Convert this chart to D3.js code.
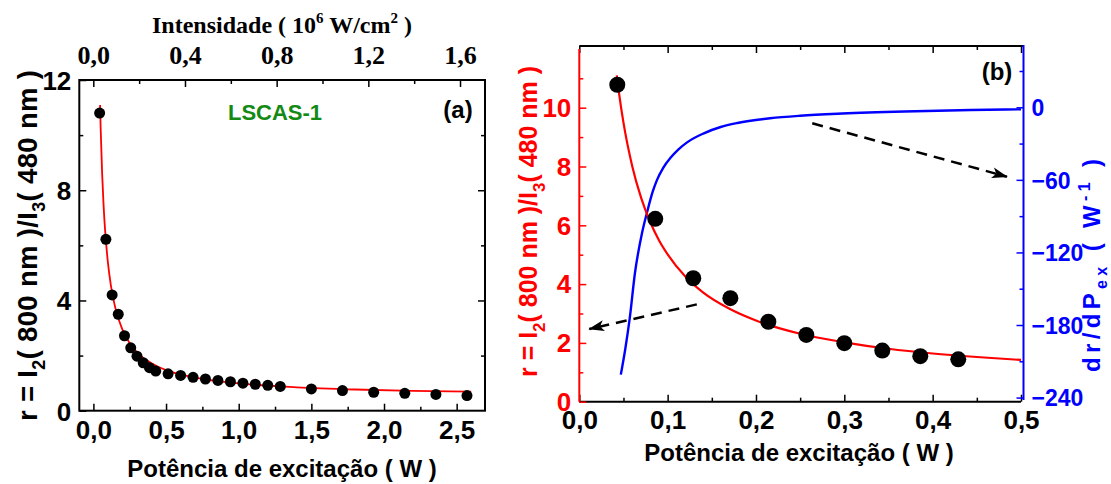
<!DOCTYPE html>
<html>
<head>
<meta charset="utf-8">
<script src="https://cdn.jsdelivr.net/npm/d3@7"></script>
<style>
  html, body { margin: 0; padding: 0; background: #fff; }
  svg { display: block; }
</style>
</head>
<body>
<svg id="chart" width="1111" height="484" font-family='"Liberation Sans", Arial, sans-serif' font-weight="bold"></svg>
<script>
// ---------- Panel (a): ratio vs excitation power ----------
const powerA = [0.043, 0.086, 0.129, 0.171, 0.214, 0.257, 0.300, 0.343, 0.386, 0.429,
                0.514, 0.600, 0.686, 0.771, 0.857, 0.943, 1.029, 1.114, 1.200, 1.286,
                1.500, 1.714, 1.929, 2.143, 2.357, 2.571];
const ratioA = [10.8, 6.22, 4.2, 3.5, 2.72, 2.28, 1.98, 1.74, 1.56, 1.44,
                1.34, 1.28, 1.21, 1.15, 1.10, 1.05, 1.00, 0.96, 0.92, 0.88,
                0.79, 0.73, 0.67, 0.63, 0.59, 0.55];
// fitted curve, sampled
const fitPowerA = [0.046, 0.05, 0.06, 0.07, 0.08, 0.10, 0.12, 0.15, 0.20, 0.25, 0.30,
                   0.40, 0.50, 0.70, 1.00, 1.40, 1.80, 2.20, 2.60];
const fitRatioA = [11.09, 10.24, 8.62, 7.46, 6.59, 5.37, 4.56, 3.75, 2.94, 2.45, 2.12,
                   1.72, 1.47, 1.20, 0.99, 0.85, 0.77, 0.72, 0.69];
const powerTicksA = [0, 0.5, 1.0, 1.5, 2.0, 2.5];
const powerMinorA = [0.25, 0.75, 1.25, 1.75, 2.25];
const intensityTicks = [0, 0.4, 0.8, 1.2, 1.6];
const intensityMinor = [0.2, 0.6, 1.0, 1.4];
const ratioTicksA = [0, 4, 8, 12];
const ratioMinorA = [2, 6, 10];

// ---------- Panel (b): low-power zoom with derivative ----------
const powerB = [0.043, 0.086, 0.129, 0.171, 0.214, 0.257, 0.300, 0.343, 0.386, 0.429];
const ratioB = [10.78, 6.22, 4.2, 3.52, 2.72, 2.27, 1.99, 1.74, 1.55, 1.44];
const fitPowerB = [0.0424, 0.045, 0.05, 0.06, 0.07, 0.08, 0.09, 0.10, 0.12, 0.14, 0.17,
                   0.20, 0.25, 0.30, 0.35, 0.40, 0.45, 0.50];
const fitRatioB = [11.10, 10.49, 9.49, 8.00, 6.93, 6.13, 5.50, 5.01, 4.26, 3.72, 3.16,
                   2.76, 2.31, 2.02, 1.80, 1.64, 1.52, 1.42];
const derivPower = [0.047, 0.052, 0.057, 0.063, 0.071, 0.077, 0.083, 0.088, 0.095, 0.103,
                    0.112, 0.122, 0.141, 0.160, 0.179, 0.216, 0.250, 0.292, 0.368, 0.443, 0.500];
const derivValue = [-221, -200, -175, -137, -104, -86, -70, -60, -50, -42,
                    -35, -29, -21.5, -16.3, -13, -9.1, -7.0, -5.3, -3.5, -2.3, -1.7];
const powerTicksB = [0, 0.1, 0.2, 0.3, 0.4, 0.5];
const powerMinorB = [0.05, 0.15, 0.25, 0.35, 0.45];
const ratioTicksB = [0, 2, 4, 6, 8, 10];
const ratioMinorB = [1, 3, 5, 7, 9, 11];
const derivTicks = [-240, -180, -120, -60, 0];
const derivMinor = [-210, -150, -90, -30, 30];
// dashed guide arrows: [power, value] pairs (start, tip)
const arrowToRed = [[0.133, 3.31], [0.0113, 2.47]];
const arrowToBlue = [[0.2637, -13.2], [0.4841, -57.4]];

const RED = "#ff0000", BLUE = "#0000ff", GREEN = "#138a13";
const SANS = '"Liberation Sans", Arial, sans-serif';
const SERIF = '"Liberation Serif", "Times New Roman", serif';
const comma = d => d3.format(".1f")(d).replace(".", ",");

const svg = d3.select("#chart");
const defs = svg.append("defs");
defs.append("marker")
  .attr("id", "head").attr("viewBox", "0 -6 16 12")
  .attr("refX", 15).attr("refY", 0)
  .attr("markerWidth", 16).attr("markerHeight", 12)
  .attr("markerUnits", "userSpaceOnUse").attr("orient", "auto")
  .append("path").attr("d", "M0,-5.5L16,0L0,5.5L4,0Z").attr("fill", "#000");

// draw a tick-only axis (no domain path) and style it
function tickAxis(g, axis, color, width) {
  g.call(axis);
  g.attr("font-family", null).attr("font-size", null);
  g.select(".domain").remove();
  g.selectAll(".tick line").attr("stroke", color).attr("stroke-width", width);
  return g;
}

// rotated title: starts at screen y = yStart (bottom) and runs upward
function vertTitle(g, x, yStart, size, color, parts, length) {
  const t = g.append("text").attr("transform", `translate(${x},${yStart}) rotate(-90)`)
    .attr("x", 0).attr("y", 0)
    .attr("font-size", size).attr("fill", color);
  parts.forEach(p => {
    const s = t.append("tspan").text(p.text);
    if (p.size) s.attr("font-size", p.size);
    if (p.dy) s.attr("dy", p.dy);
  });
  if (length) t.attr("textLength", length).attr("lengthAdjust", "spacing");
  return t;
}

// ================= Panel (a) =================
const xA = d3.scaleLinear().domain([-0.097, 2.695]).range([79.3, 485]);
const xTopA = d3.scaleLinear().domain([-0.0611, 1.709]).range([79.3, 485]);
const yA = d3.scaleLinear().domain([0, 12]).range([410.7, 80]);
const gA = svg.append("g");

// bottom
tickAxis(gA.append("g").attr("transform", `translate(0,${yA(0)})`),
  d3.axisBottom(xA).tickValues(powerMinorA).tickSize(-4).tickFormat(""), "#000", 1.5);
const bA = tickAxis(gA.append("g").attr("transform", `translate(0,${yA(0)})`),
  d3.axisBottom(xA).tickValues(powerTicksA).tickSize(-7).tickFormat(comma), "#000", 1.5);
bA.selectAll("text").attr("y", 28).attr("dy", null)
  .attr("font-size", 26).attr("fill", "#000");
// top (intensity)
tickAxis(gA.append("g").attr("transform", `translate(0,${yA(12)})`),
  d3.axisTop(xTopA).tickValues(intensityMinor).tickSize(-4).tickFormat(""), "#000", 1.5);
const tA = tickAxis(gA.append("g").attr("transform", `translate(0,${yA(12)})`),
  d3.axisTop(xTopA).tickValues(intensityTicks).tickSize(-7).tickFormat(comma), "#000", 1.5);
tA.selectAll("text").attr("y", -16.5).attr("dy", null)
  .attr("font-size", 26).attr("fill", "#000").attr("font-family", SERIF);
// left
tickAxis(gA.append("g").attr("transform", `translate(${xA.range()[0]},0)`),
  d3.axisLeft(yA).tickValues(ratioMinorA).tickSize(-4).tickFormat(""), "#000", 1.5);
const lA = tickAxis(gA.append("g").attr("transform", `translate(${xA.range()[0]},0)`),
  d3.axisLeft(yA).tickValues(ratioTicksA).tickSize(-7).tickPadding(8).tickFormat(d3.format("d")), "#000", 1.5);
lA.selectAll("text").attr("font-size", 26).attr("fill", "#000").attr("dy", "0.36em");
// right mirrored ticks
tickAxis(gA.append("g").attr("transform", `translate(${xA.range()[1]},0)`),
  d3.axisRight(yA).tickValues(ratioMinorA).tickSize(-4).tickFormat(""), "#000", 1.5);
tickAxis(gA.append("g").attr("transform", `translate(${xA.range()[1]},0)`),
  d3.axisRight(yA).tickValues(ratioTicksA.slice(1, 3)).tickSize(-7).tickFormat(""), "#000", 1.5);

gA.append("rect")
  .attr("x", xA.range()[0]).attr("y", yA(12))
  .attr("width", xA.range()[1] - xA.range()[0]).attr("height", yA(0) - yA(12))
  .attr("fill", "none").attr("stroke", "#000").attr("stroke-width", 2);

gA.append("path")
  .datum(fitPowerA.map((p, i) => [p, fitRatioA[i]]))
  .attr("fill", "none").attr("stroke", RED).attr("stroke-width", 1.8)
  .attr("d", d3.line().x(d => xA(d[0])).y(d => yA(d[1])).curve(d3.curveMonotoneX));

gA.append("g").selectAll("circle")
  .data(powerA.map((p, i) => [p, ratioA[i]]))
  .join("circle")
  .attr("cx", d => xA(d[0])).attr("cy", d => yA(d[1])).attr("r", 5.5).attr("fill", "#000");

gA.append("text").attr("x", 275).attr("y", 120).attr("text-anchor", "middle")
  .attr("font-size", 22).attr("fill", GREEN).text("LSCAS-1");
gA.append("text").attr("x", 458).attr("y", 118).attr("text-anchor", "middle")
  .attr("font-size", 24).attr("fill", "#000").text("(a)");

// axis titles (a)
const topTitle = gA.append("text").attr("x", 282).attr("y", 33)
  .attr("text-anchor", "middle").attr("font-size", 24).attr("fill", "#000")
  .attr("font-family", SERIF);
topTitle.append("tspan").text("Intensidade ( 10");
topTitle.append("tspan").attr("font-size", 15).attr("dy", -10).text("6");
topTitle.append("tspan").attr("dy", 10).text(" W/cm");
topTitle.append("tspan").attr("font-size", 15).attr("dy", -10).text("2");
topTitle.append("tspan").attr("dy", 10).text(" )");

gA.append("text").attr("x", 282).attr("y", 477).attr("text-anchor", "middle")
  .attr("font-size", 24).attr("fill", "#000").text("Potência de excitação ( W )");

function ratioParts(size) {
  const s = Math.round(size * 0.66), sh = Math.round(size * 0.3);
  return [
    { text: "r = I" }, { text: "2", size: s, dy: sh }, { text: "( 800 nm )/I", dy: -sh },
    { text: "3", size: s, dy: sh }, { text: "( 480 nm )", dy: -sh }
  ];
}
vertTitle(gA, 37, 421, 27.5, "#000", ratioParts(27.5), 351);

// ================= Panel (b) =================
const xB = d3.scaleLinear().domain([0, 0.5]).range([579.3, 1021]);
const yRed = d3.scaleLinear().domain([0, 12]).range([401.7, 48.9]);
const yBlue = d3.scaleLinear().domain([-242, 51.5]).range([400, 45]);
const gB = svg.append("g");

// bottom
tickAxis(gB.append("g").attr("transform", `translate(0,${yRed(0)})`),
  d3.axisBottom(xB).tickValues(powerMinorB).tickSize(-4).tickFormat(""), "#000", 1.5);
const bB = tickAxis(gB.append("g").attr("transform", `translate(0,${yRed(0)})`),
  d3.axisBottom(xB).tickValues(powerTicksB).tickSize(-7).tickFormat(comma), "#000", 1.5);
bB.selectAll("text").attr("y", 27.6).attr("dy", null)
  .attr("font-size", 26).attr("fill", "#000");
// top
tickAxis(gB.append("g").attr("transform", "translate(0,46)"),
  d3.axisTop(xB).tickValues(powerMinorB).tickSize(-4).tickFormat(""), "#000", 1.5);
tickAxis(gB.append("g").attr("transform", "translate(0,46)"),
  d3.axisTop(xB).tickValues(powerTicksB).tickSize(-7).tickFormat(""), "#000", 1.5);
gB.append("line").attr("x1", xB(0)).attr("x2", 1023.5).attr("y1", 46).attr("y2", 46)
  .attr("stroke", "#000").attr("stroke-width", 2);
gB.append("line").attr("x1", xB(0)).attr("x2", xB(0.5)).attr("y1", yRed(0)).attr("y2", yRed(0))
  .attr("stroke", "#000").attr("stroke-width", 2);

// left red axis
tickAxis(gB.append("g").attr("transform", `translate(${xB(0)},0)`),
  d3.axisLeft(yRed).tickValues(ratioMinorB).tickSize(-4).tickFormat(""), RED, 1.5);
const lB = tickAxis(gB.append("g").attr("transform", `translate(${xB(0)},0)`),
  d3.axisLeft(yRed).tickValues(ratioTicksB).tickSize(-7).tickPadding(8).tickFormat(d3.format("d")), RED, 1.5);
lB.selectAll("text").attr("font-size", 26).attr("fill", RED).attr("dy", "0.34em");
gB.append("line").attr("x1", xB(0)).attr("x2", xB(0)).attr("y1", yRed(0)).attr("y2", yRed(12))
  .attr("stroke", RED).attr("stroke-width", 2);

// right blue axis
const xBlueAxis = 1023.5;
tickAxis(gB.append("g").attr("transform", `translate(${xBlueAxis},0)`),
  d3.axisRight(yBlue).tickValues(derivMinor).tickSize(-4).tickFormat(""), BLUE, 1.5);
const rB = tickAxis(gB.append("g").attr("transform", `translate(${xBlueAxis},0)`),
  d3.axisRight(yBlue).tickValues(derivTicks).tickSize(-7).tickPadding(8).tickFormat(d3.format("d")), BLUE, 1.5);
rB.selectAll("text").attr("font-size", 23).attr("fill", BLUE).attr("dy", "0.36em");
gB.append("line").attr("x1", xBlueAxis).attr("x2", xBlueAxis)
  .attr("y1", yBlue.range()[0]).attr("y2", yBlue.range()[1])
  .attr("stroke", BLUE).attr("stroke-width", 2);

// curves
gB.append("path")
  .datum(derivPower.map((p, i) => [p, derivValue[i]]))
  .attr("fill", "none").attr("stroke", BLUE).attr("stroke-width", 2.4)
  .attr("d", d3.line().x(d => xB(d[0])).y(d => yBlue(d[1])).curve(d3.curveMonotoneX));
gB.append("path")
  .datum(fitPowerB.map((p, i) => [p, fitRatioB[i]]))
  .attr("fill", "none").attr("stroke", RED).attr("stroke-width", 2.2)
  .attr("d", d3.line().x(d => xB(d[0])).y(d => yRed(d[1])).curve(d3.curveMonotoneX));

gB.append("g").selectAll("circle")
  .data(powerB.map((p, i) => [p, ratioB[i]]))
  .join("circle")
  .attr("cx", d => xB(d[0])).attr("cy", d => yRed(d[1])).attr("r", 8).attr("fill", "#000");

// dashed guide arrows
function arrow(pts, yScale) {
  gB.append("line")
    .attr("x1", xB(pts[0][0])).attr("y1", yScale(pts[0][1]))
    .attr("x2", xB(pts[1][0])).attr("y2", yScale(pts[1][1]))
    .attr("stroke", "#000").attr("stroke-width", 2.5)
    .attr("stroke-dasharray", "11,7").attr("marker-end", "url(#head)");
}
arrow(arrowToRed, yRed);
arrow(arrowToBlue, yBlue);

gB.append("text").attr("x", 997).attr("y", 80).attr("text-anchor", "middle")
  .attr("font-size", 24).attr("fill", "#000").text("(b)");

gB.append("text").attr("x", 799).attr("y", 461).attr("text-anchor", "middle")
  .attr("font-size", 24).attr("fill", "#000").text("Potência de excitação ( W )");

vertTitle(gB, 537, 377, 25, RED, ratioParts(25), 311);

vertTitle(gB, 1100, 372, 24, BLUE, [
  { text: "dr/dP" }, { text: "ex", size: 16, dy: 7 }, { text: " ( W", dy: -7 },
  { text: "-1", size: 16, dy: -10 }, { text: " )", dy: 10 }
], 213);
</script>
</body>
</html>
